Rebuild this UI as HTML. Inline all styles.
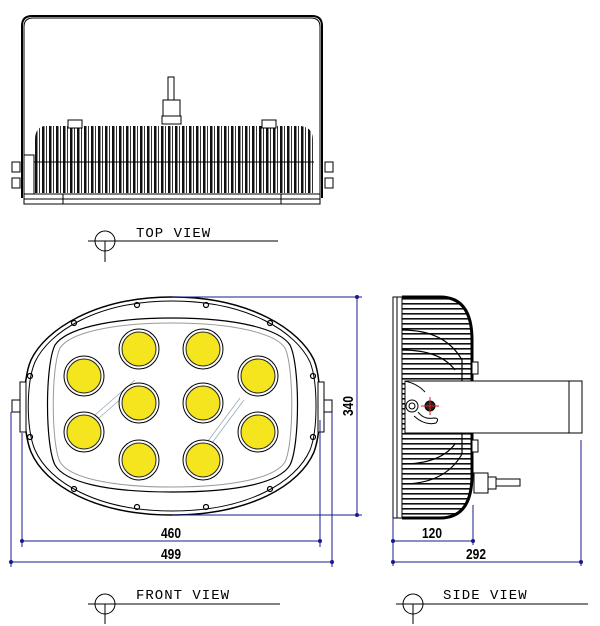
<!DOCTYPE html>
<html><head><meta charset="utf-8"><style>html,body{margin:0;padding:0;background:#fff}svg{display:block}</style></head>
<body>
<svg width="600" height="626" viewBox="0 0 600 626" xmlns="http://www.w3.org/2000/svg" font-family="Liberation Sans, sans-serif">
<defs>
<pattern id="fin" x="35" y="0" width="7" height="200" patternUnits="userSpaceOnUse">
<rect x="0" y="0" width="2.5" height="200" fill="#111"/><rect x="4" y="0" width="1" height="200" fill="#333"/>
</pattern>
<pattern id="hfin" x="0" y="298" width="40" height="5" patternUnits="userSpaceOnUse">
<rect x="0" y="0" width="40" height="1.6" fill="#111"/>
</pattern>
<clipPath id="sideclip"><path d="M402 297 H440 Q472 297 472 340 V475 Q472 518 440 518 H402 Z"/></clipPath>
<clipPath id="finclip"><path d="M35 193 V140 Q35 127 45 126 H300 Q313 127 313 140 V193 Z"/></clipPath>
</defs>
<g stroke="#000" fill="none" stroke-width="1">
<!-- TOP VIEW -->
<path d="M22 198 V26 Q22 16 32 16 H312 Q322 16 322 26 V198" stroke-width="2"/>
<path d="M24 198 V27 Q24 18 33 18 H311 Q320 18 320 27 V198"/>
<rect x="35" y="125" width="278" height="68" fill="url(#fin)" stroke="none" clip-path="url(#finclip)"/>
<line x1="30" y1="162" x2="314" y2="162"/>
<rect x="24" y="155" width="10" height="40" fill="#fff"/>
<rect x="12" y="162" width="8" height="10" fill="#fff"/><rect x="12" y="178" width="8" height="10" fill="#fff"/>
<rect x="325" y="162" width="8" height="10" fill="#fff"/><rect x="325" y="178" width="8" height="10" fill="#fff"/>
<rect x="68" y="120" width="14" height="8" fill="#fff"/><rect x="262" y="120" width="14" height="8" fill="#fff"/>
<rect x="168" y="77" width="6" height="23" fill="#fff"/>
<rect x="163" y="100" width="17" height="16" fill="#fff"/>
<rect x="162" y="116" width="19" height="8" fill="#fff"/>
<rect x="24" y="194" width="296" height="10" fill="#fff"/>
<line x1="24" y1="199" x2="320" y2="199"/>
<line x1="63" y1="194" x2="63" y2="204"/><line x1="281" y1="194" x2="281" y2="204"/>
<circle cx="105" cy="241" r="10"/><line x1="88" y1="241" x2="278" y2="241"/><line x1="105" y1="241" x2="105" y2="262"/>

<!-- FRONT VIEW -->
<path d="M172 297 C250 297 300 330 314 360 C322 380 322 430 314 452 C300 485 250 515 172 515 C95 515 45 485 31 452 C22 430 22 380 31 360 C45 330 95 297 172 297 Z" stroke-width="1.5"/>
<path d="M172 301 C248 301 296 332 310 362 C318 382 318 430 310 450 C296 482 248 511 172 511 C97 511 49 482 35 450 C26 430 26 382 35 362 C49 332 97 301 172 301 Z"/>
<path d="M172 318 C240 318 280 330 290 345 C300 365 300 445 290 465 C280 482 240 492 172 492 C105 492 65 482 55 465 C45 445 45 365 55 345 C65 330 105 318 172 318 Z" stroke-width="1.2"/>
<path d="M172 323 C236 323 276 334 285 348 C294 367 294 443 285 462 C276 477 236 487 172 487 C108 487 69 477 60 462 C51 443 51 367 60 348 C69 334 108 323 172 323 Z" stroke="#999"/>
<g stroke="#9ab" stroke-width="0.8"><line x1="95" y1="415" x2="135" y2="380"/><line x1="99" y1="418" x2="139" y2="383"/><line x1="205" y1="445" x2="240" y2="398"/><line x1="209" y1="447" x2="244" y2="400"/></g>
<g fill="#fff">
<circle cx="84" cy="376" r="20"/><circle cx="139" cy="349" r="20"/><circle cx="203" cy="349" r="20"/><circle cx="258" cy="376" r="20"/>
<circle cx="84" cy="432" r="20"/><circle cx="139" cy="403" r="20"/><circle cx="203" cy="403" r="20"/><circle cx="258" cy="432" r="20"/>
<circle cx="139" cy="460" r="20"/><circle cx="203" cy="460" r="20"/>
</g>
<g fill="#f5e51e" stroke="#222">
<circle cx="84" cy="376" r="17"/><circle cx="139" cy="349" r="17"/><circle cx="203" cy="349" r="17"/><circle cx="258" cy="376" r="17"/>
<circle cx="84" cy="432" r="17"/><circle cx="139" cy="403" r="17"/><circle cx="203" cy="403" r="17"/><circle cx="258" cy="432" r="17"/>
<circle cx="139" cy="460" r="17"/><circle cx="203" cy="460" r="17"/>
</g>
<g stroke-width="1.2">
<circle cx="137" cy="305" r="2.5"/><circle cx="206" cy="305" r="2.5"/><circle cx="74" cy="323" r="2.5"/><circle cx="270" cy="323" r="2.5"/>
<circle cx="30" cy="376" r="2.5"/><circle cx="313" cy="376" r="2.5"/><circle cx="30" cy="437" r="2.5"/><circle cx="313" cy="437" r="2.5"/>
<circle cx="74" cy="489" r="2.5"/><circle cx="270" cy="489" r="2.5"/><circle cx="137" cy="507" r="2.5"/><circle cx="206" cy="507" r="2.5"/>
</g>
<rect x="20" y="382" width="6" height="50" fill="#fff"/><rect x="318" y="382" width="6" height="50" fill="#fff"/>
<rect x="12" y="400" width="8" height="12" fill="#fff"/><rect x="324" y="400" width="8" height="12" fill="#fff"/>
</g>
<g stroke="#1a1a8c" fill="#1a1a8c" stroke-width="1">
<line x1="172" y1="297" x2="362" y2="297"/><line x1="172" y1="515" x2="362" y2="515"/>
<line x1="357" y1="297" x2="357" y2="515"/>
<circle cx="357" cy="297" r="1.5"/><circle cx="357" cy="515" r="1.5"/>
<line x1="11" y1="412" x2="11" y2="567"/><line x1="22" y1="433" x2="22" y2="547"/>
<line x1="320" y1="420" x2="320" y2="547"/><line x1="332" y1="412" x2="332" y2="567"/>
<line x1="22" y1="541" x2="320" y2="541"/><line x1="11" y1="562" x2="332" y2="562"/>
<circle cx="22" cy="541" r="1.5"/><circle cx="320" cy="541" r="1.5"/><circle cx="11" cy="562" r="1.5"/><circle cx="332" cy="562" r="1.5"/>
</g>
<g font-size="15" fill="#000" text-anchor="middle" font-weight="bold">
<text transform="translate(171,538) scale(0.8,1)">460</text>
<text transform="translate(171,559) scale(0.8,1)">499</text>
<text transform="translate(353,406) rotate(-90) scale(0.8,1)">340</text>
<text transform="translate(432,538) scale(0.8,1)">120</text>
<text transform="translate(476,559) scale(0.8,1)">292</text>
</g>
<g stroke="#000" fill="none">
<circle cx="105" cy="604" r="10"/><line x1="88" y1="604" x2="280" y2="604"/><line x1="105" y1="604" x2="105" y2="624"/>
<circle cx="413" cy="604" r="10"/><line x1="396" y1="604" x2="588" y2="604"/><line x1="413" y1="604" x2="413" y2="624"/>
</g>
<g font-family="Liberation Mono, monospace" font-size="14" fill="#000">
<text x="136" y="237" letter-spacing="1">TOP  VIEW</text>
<text x="136" y="599" letter-spacing="1">FRONT  VIEW</text>
<text x="443" y="599" letter-spacing="1">SIDE  VIEW</text>
</g>

<!-- SIDE VIEW -->
<g stroke="#000" fill="none">
<rect x="402" y="298" width="75" height="220" fill="url(#hfin)" clip-path="url(#sideclip)" stroke="none"/>
<g clip-path="url(#sideclip)" stroke-width="1.2">
<path d="M402 330 Q445 330 462 360 V381"/><path d="M402 350 Q440 350 455 370"/>
<path d="M402 484 Q445 484 462 454 V433"/><path d="M402 464 Q440 464 455 444"/>
</g>
<path d="M402 297 H440 Q472 297 472 340 V475 Q472 518 440 518 H402" stroke-width="3"/>
<rect x="393" y="297" width="9" height="221" fill="#fff"/>
<line x1="397" y1="297" x2="397" y2="518"/>
<rect x="405" y="381" width="177" height="52" fill="#fff"/>
<line x1="569" y1="381" x2="569" y2="433"/>
<path d="M405 381 Q418 384 425 392"/>
<circle cx="412" cy="406" r="6" fill="#fff"/><circle cx="412" cy="406" r="3"/>
<circle cx="430" cy="406" r="5" fill="#222"/>
<g stroke="#d22"><line x1="421" y1="406" x2="439" y2="406"/><line x1="430" y1="397" x2="430" y2="415"/></g>
<path d="M414 416 Q425 426 436 423 Q440 418 434 418 Q424 420 418 412"/>
<rect x="472" y="362" width="6" height="12" fill="#fff"/><rect x="472" y="440" width="6" height="12" fill="#fff"/>
<rect x="474" y="473" width="14" height="20" fill="#fff"/><rect x="488" y="477" width="8" height="12" fill="#fff"/>
<rect x="496" y="479" width="24" height="7" fill="#fff"/>
</g>
<g stroke="#1a1a8c" fill="#1a1a8c">
<line x1="393" y1="518" x2="393" y2="566"/><line x1="473" y1="505" x2="473" y2="545"/><line x1="581" y1="440" x2="581" y2="566"/>
<line x1="393" y1="541" x2="473" y2="541"/><line x1="393" y1="562" x2="581" y2="562"/>
<circle cx="393" cy="541" r="1.5"/><circle cx="473" cy="541" r="1.5"/><circle cx="393" cy="562" r="1.5"/><circle cx="581" cy="562" r="1.5"/>
</g>
</svg>
</body></html>
